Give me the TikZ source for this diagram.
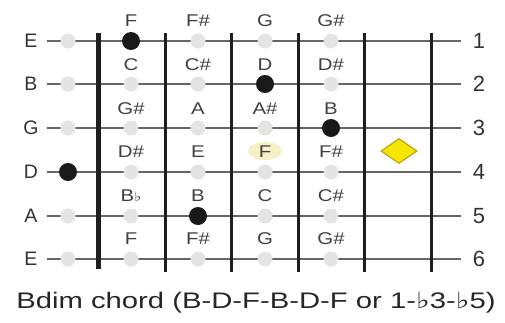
\documentclass[tikz,border=0pt]{standalone}
\usepackage{fontspec}
\usetikzlibrary{shapes.geometric}
\setmainfont{Liberation Sans}
\newfontfamily\djv{DejaVu Sans}
\definecolor{dotgray}{HTML}{E4E4E4}
\definecolor{stringgray}{HTML}{666666}
\definecolor{diamondfill}{HTML}{F7E600}
\definecolor{diamonddraw}{HTML}{B39B00}
\definecolor{paleyellow}{HTML}{F6F0C6}
\begin{document}
\begin{tikzpicture}[x=1pt,y=-1pt,
 stringline/.style={draw=stringgray, line width=1.4pt},
 fretline/.style={draw=black!88, line width=3pt},
 nutline/.style={draw=black!88, line width=5pt},
 opendot/.style={circle, fill=dotgray, minimum size=15pt, inner sep=0pt},
 chorddot/.style={circle, fill=black!90, minimum size=18pt, inner sep=0pt},
 notelabel/.style={font=\fontsize{17}{17}\selectfont, text=black!75, inner sep=0pt, xscale=1.2},
 strlabel/.style={font=\fontsize{19.5}{19.5}\selectfont, text=black!80, inner sep=0pt},
 numlabel/.style={font=\fontsize{22}{22}\selectfont, text=black!80, inner sep=0pt},
 captionstyle/.style={font=\fontsize{22.5}{23}\selectfont, text=black!85, inner sep=0pt, xscale=1.3},
]
\useasboundingbox (0,0) rectangle (505,322);
% strings
\foreach \i/\y/\n in {1/41/E,2/84/B,3/128/G,4/172/D,5/216/A,6/259/E}{
  \node[strlabel] (L\i) at (31,\y) {\n};
  \node[numlabel] (N\i) at (479,\y) {\i};
  \coordinate (S\i a) at (47,\y);
  \coordinate (S\i b) at (461,\y);
  \draw[stringline] (S\i a) -- (S\i b);
}
% frets
\coordinate (nutT) at (98,33); \coordinate (nutB) at (98,269);
\draw[nutline] (nutT) -- (nutB);
\foreach \k/\x in {1/165,2/231,3/298,4/364,5/431}{
  \coordinate (F\k t) at (\x,33); \coordinate (F\k b) at (\x,272);
  \draw[fretline] (F\k t) -- (F\k b);
}
% highlight behind F
\node[ellipse, fill=paleyellow, minimum width=34pt, minimum height=18pt, inner sep=0pt] (hl) at (265,151) {};
% dots: open column x=68, frets x=131,198,265,331
\foreach \i/\y in {1/41,2/84,3/128,4/172,5/216,6/259}{
  \foreach \c/\x in {0/68,1/131,2/198,3/265,4/331}{
    \node[opendot] (D\i-\c) at (\x,\y) {};
  }
}
\node[chorddot] (C1) at (131,41) {};
\node[chorddot] (C2) at (265,84) {};
\node[chorddot] (C3) at (331,128) {};
\node[chorddot] (C4) at (68,172) {};
\node[chorddot] (C5) at (198,216) {};
% note labels
\foreach \i/\y/\a/\b/\c/\d in {1/21/F/F\#/G/G\#,2/65/C/C\#/D/D\#,3/109/G\#/A/A\#/B,4/152/D\#/E/F/F\#,5/196/B{\djv\fontsize{13}{13}\selectfont ♭}/B/C/C\#,6/239/F/F\#/G/G\#}{
  \node[notelabel] (T\i-1) at (131,\y) {\a};
  \node[notelabel] (T\i-2) at (198,\y) {\b};
  \node[notelabel] (T\i-3) at (265,\y) {\c};
  \node[notelabel] (T\i-4) at (331,\y) {\d};
}
% diamond
\node[diamond, draw=diamonddraw, fill=diamondfill, line width=1pt, minimum width=36pt, minimum height=25pt, inner sep=0pt, aspect=1.4] (dia) at (399,151) {};
% caption
\node[captionstyle] (cap) at (256,303) {Bdim chord (B-D-F-B-D-F or 1-{\djv ♭}3-{\djv ♭}5)};
\end{tikzpicture}
\end{document}
